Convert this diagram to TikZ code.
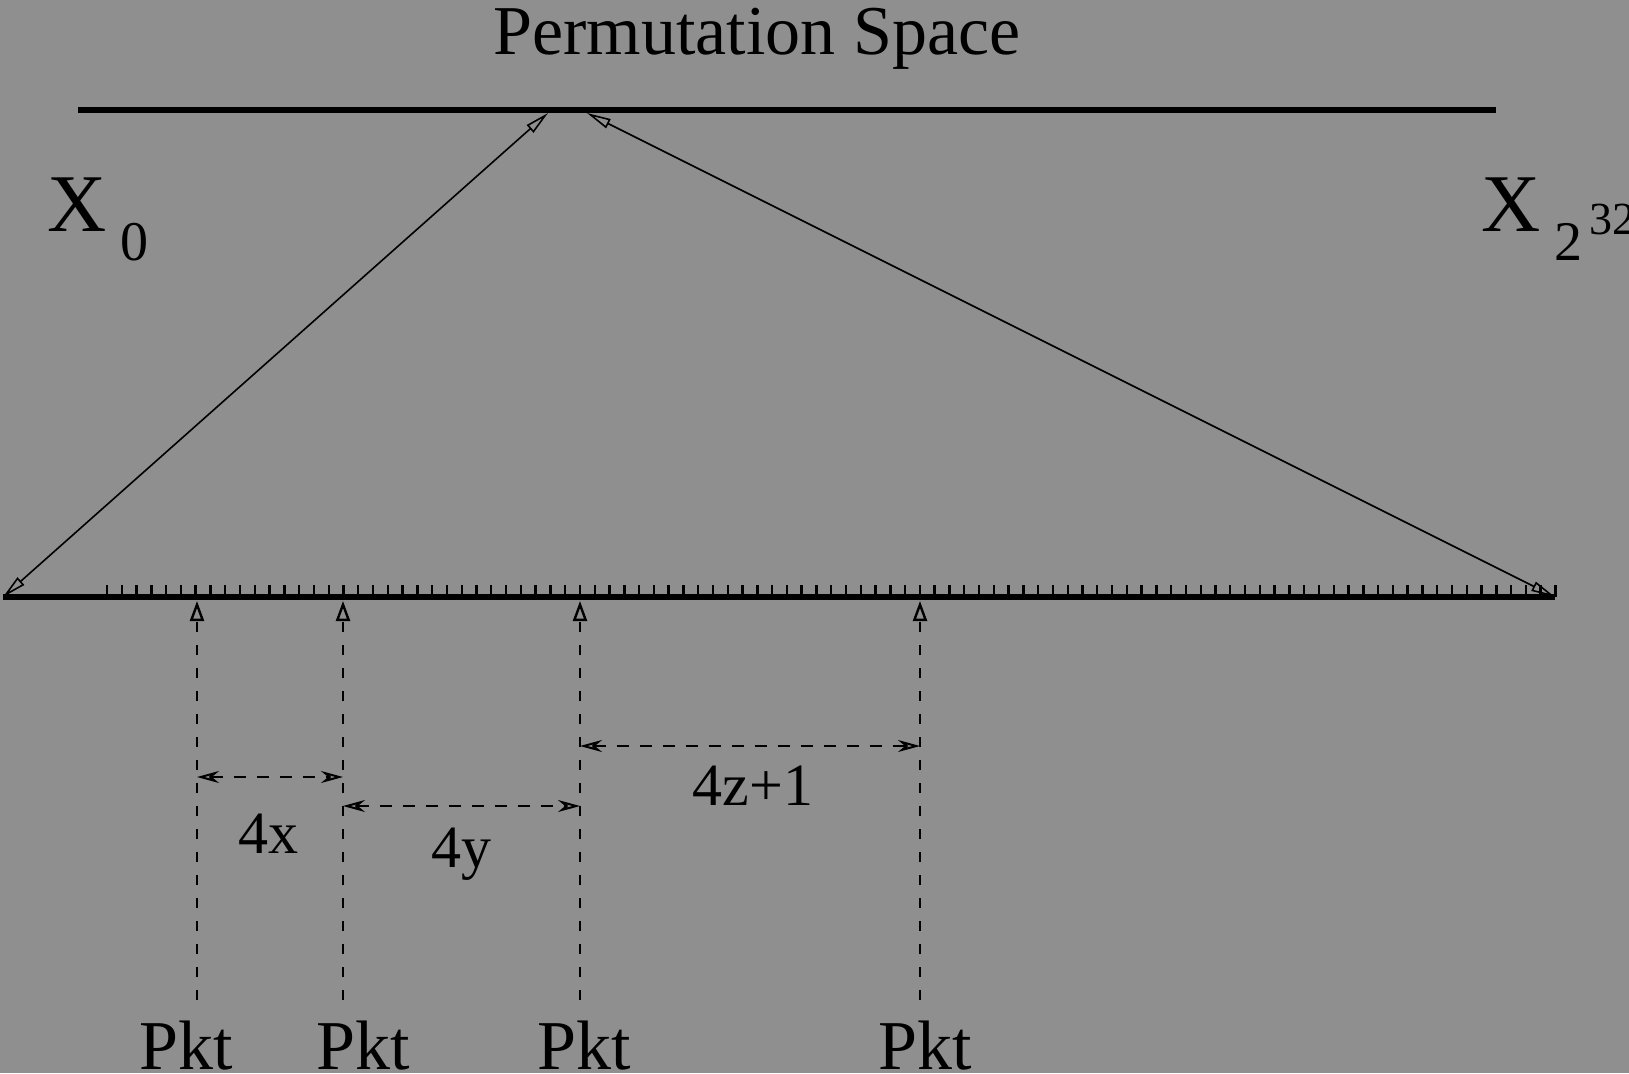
\documentclass[tikz,border=0pt]{standalone}
\usepackage{fontspec}
\setmainfont{Liberation Serif}
\usetikzlibrary{arrows.meta,positioning}
\definecolor{PaperGray}{HTML}{8F8F8F}

\begin{document}
\begin{tikzpicture}[
    x=0.5pt, y=-0.5pt,
    heavyline/.style={line width=2.8pt},
    tickmark/.style={line width=1.2pt},
    spanarrow/.style={line width=0.8pt,
      {Triangle[open,length=12pt,width=5pt]}-{Triangle[open,length=12pt,width=5pt]}},
    pktline/.style={line width=1pt, dash pattern=on 5pt off 6.5pt,
      -{Triangle[open,length=10pt,width=7pt,line width=1.2pt]}},
    gapline/.style={line width=1pt, dash pattern=on 6pt off 5.5pt,
      {Stealth[open,length=11pt,width=6pt]}-{Stealth[open,length=11pt,width=6pt]}},
    titlelabel/.style={anchor=base, inner sep=0pt, font=\fontsize{35}{35}\selectfont},
    pktlabel/.style={anchor=base, inner sep=0pt, text depth=0pt, font=\fontsize{35}{35}\selectfont},
    gaplabel/.style={anchor=base, inner sep=0pt, font=\fontsize{30}{30}\selectfont},
    endlabel/.style={anchor=base west, inner sep=0pt, font=\fontsize{41}{41}\selectfont}
  ]
  \useasboundingbox[fill=PaperGray] (0,0) rectangle (1629,1073);

  % permutation space
  \node[titlelabel] (title) at (757,54) {Permutation Space};
  \coordinate (spaceL) at (78,110);
  \coordinate (spaceR) at (1496,110);
  \draw[heavyline] (spaceL) -- (spaceR);
  \coordinate (apexL) at (548,113);
  \coordinate (apexR) at (587,113);

  \node[endlabel] (xfirst) at (47,231)
    {X\hspace{7pt}\raisebox{-14.5pt}{\fontsize{28}{28}\selectfont 0}};
  \node[endlabel] (xlast) at (1481,231)
    {X\hspace{7pt}\raisebox{-14.5pt}{\fontsize{28}{28}\selectfont 2}\hspace{3.5pt}\raisebox{-1.5pt}{\fontsize{23}{23}\selectfont 32}};

  % sequence space
  \coordinate (lineL) at (3,597);
  \coordinate (lineR) at (1555,597);
  \draw[heavyline] (lineL) -- (lineR);
  \foreach \i in {0,...,98}
    \draw[tickmark] (107+\i*14.78,597) -- ++(0,-12);

  \draw[spanarrow] (lineL) -- (apexL);
  \draw[spanarrow] (lineR) -- (apexR);

  % packets
  \node[pktlabel] (pkt1) at (186,1069) {Pkt};
  \node[pktlabel] (pkt2) at (363,1069) {Pkt};
  \node[pktlabel] (pkt3) at (584,1069) {Pkt};
  \node[pktlabel] (pkt4) at (925,1069) {Pkt};

  \coordinate (foot1) at (197,1000);
  \coordinate (foot2) at (343,1000);
  \coordinate (foot3) at (580,1000);
  \coordinate (foot4) at (920,1000);
  \coordinate (hit) at (0,601);
  \foreach \k in {1,...,4}
    \draw[pktline] (foot\k) -- (foot\k |- hit);

  % gaps
  \coordinate (levelx) at (0,777);
  \coordinate (levely) at (0,806);
  \coordinate (levelz) at (0,746);
  \draw[gapline] (foot1 |- levelx) -- (foot2 |- levelx);
  \draw[gapline] (foot2 |- levely) -- (foot3 |- levely);
  \draw[gapline] (foot3 |- levelz) -- (foot4 |- levelz);

  \node[gaplabel] (gapx) at (268,853) {4x};
  \node[gaplabel] (gapy) at (461,867) {4y};
  \node[gaplabel] (gapz) at (753,805) {4z+1};
\end{tikzpicture}
\end{document}
